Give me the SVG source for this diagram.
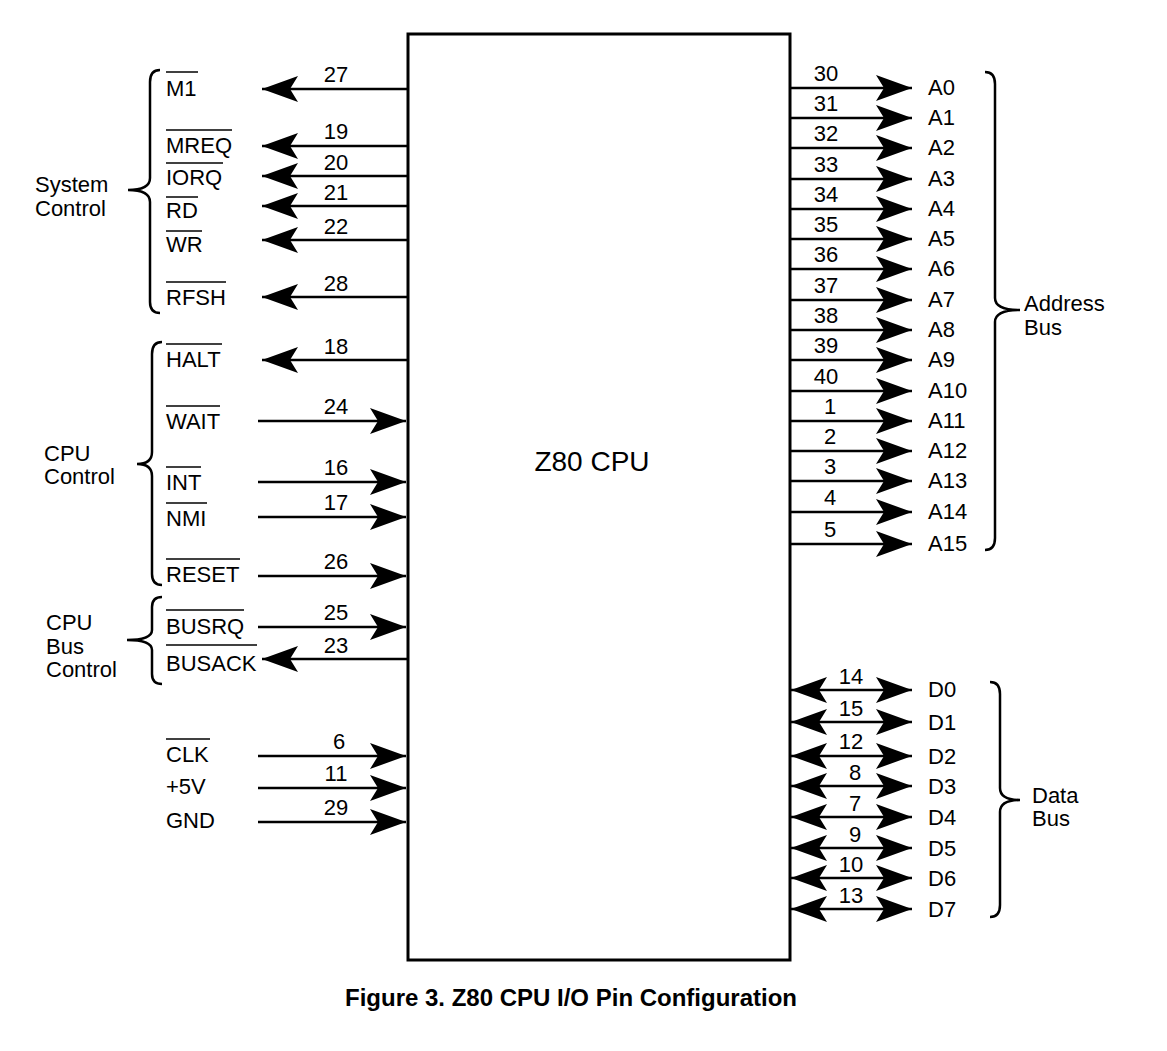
<svg xmlns="http://www.w3.org/2000/svg" width="1167" height="1051" viewBox="0 0 1167 1051">
<style>
text{font-family:"Liberation Sans",Arial,sans-serif;font-size:22px;fill:#000}
.n{text-anchor:middle}
.w{stroke:#000;stroke-width:2.5;fill:none}
.ob{stroke:#000;stroke-width:1.5}
.br{stroke:#000;stroke-width:2.5;fill:none}
</style>
<defs>
<marker id="ah" markerUnits="userSpaceOnUse" markerWidth="40" markerHeight="30" viewBox="-36 -15 38 30" refX="0" refY="0" orient="auto-start-reverse">
<path d="M0,0 L-36,-13 L-28,0 L-36,13 Z" fill="#000"/>
</marker>
</defs>
<rect width="1167" height="1051" fill="#fff"/>
<g id="cpu"><rect x="408" y="34" width="382" height="926" fill="#fff" stroke="#000" stroke-width="3"/>
<text x="592" y="471" class="n" style="font-size:28px">Z80 CPU</text></g>
<g id="connectors">
<line class="w" x1="408" y1="89" x2="262" y2="89" marker-end="url(#ah)"/>
<line class="w" x1="408" y1="146" x2="262" y2="146" marker-end="url(#ah)"/>
<line class="w" x1="408" y1="176" x2="262" y2="176" marker-end="url(#ah)"/>
<line class="w" x1="408" y1="206" x2="262" y2="206" marker-end="url(#ah)"/>
<line class="w" x1="408" y1="240" x2="262" y2="240" marker-end="url(#ah)"/>
<line class="w" x1="408" y1="297" x2="262" y2="297" marker-end="url(#ah)"/>
<line class="w" x1="408" y1="360" x2="262" y2="360" marker-end="url(#ah)"/>
<line class="w" x1="408" y1="659" x2="262" y2="659" marker-end="url(#ah)"/>
<line class="w" x1="258" y1="421" x2="406" y2="421" marker-end="url(#ah)"/>
<line class="w" x1="258" y1="482" x2="406" y2="482" marker-end="url(#ah)"/>
<line class="w" x1="258" y1="517" x2="406" y2="517" marker-end="url(#ah)"/>
<line class="w" x1="258" y1="576" x2="406" y2="576" marker-end="url(#ah)"/>
<line class="w" x1="258" y1="627" x2="406" y2="627" marker-end="url(#ah)"/>
<line class="w" x1="258" y1="756" x2="406" y2="756" marker-end="url(#ah)"/>
<line class="w" x1="258" y1="788" x2="406" y2="788" marker-end="url(#ah)"/>
<line class="w" x1="258" y1="822" x2="406" y2="822" marker-end="url(#ah)"/>
<line class="w" x1="790" y1="88" x2="912" y2="88" marker-end="url(#ah)"/>
<line class="w" x1="790" y1="118" x2="912" y2="118" marker-end="url(#ah)"/>
<line class="w" x1="790" y1="148" x2="912" y2="148" marker-end="url(#ah)"/>
<line class="w" x1="790" y1="179" x2="912" y2="179" marker-end="url(#ah)"/>
<line class="w" x1="790" y1="209" x2="912" y2="209" marker-end="url(#ah)"/>
<line class="w" x1="790" y1="239" x2="912" y2="239" marker-end="url(#ah)"/>
<line class="w" x1="790" y1="269" x2="912" y2="269" marker-end="url(#ah)"/>
<line class="w" x1="790" y1="300" x2="912" y2="300" marker-end="url(#ah)"/>
<line class="w" x1="790" y1="330" x2="912" y2="330" marker-end="url(#ah)"/>
<line class="w" x1="790" y1="360" x2="912" y2="360" marker-end="url(#ah)"/>
<line class="w" x1="790" y1="391" x2="912" y2="391" marker-end="url(#ah)"/>
<line class="w" x1="790" y1="421" x2="912" y2="421" marker-end="url(#ah)"/>
<line class="w" x1="790" y1="451" x2="912" y2="451" marker-end="url(#ah)"/>
<line class="w" x1="790" y1="481" x2="912" y2="481" marker-end="url(#ah)"/>
<line class="w" x1="790" y1="512" x2="912" y2="512" marker-end="url(#ah)"/>
<line class="w" x1="790" y1="544" x2="912" y2="544" marker-end="url(#ah)"/>
<line class="w" x1="791" y1="690" x2="912" y2="690" marker-start="url(#ah)" marker-end="url(#ah)"/>
<line class="w" x1="791" y1="722" x2="912" y2="722" marker-start="url(#ah)" marker-end="url(#ah)"/>
<line class="w" x1="791" y1="756" x2="912" y2="756" marker-start="url(#ah)" marker-end="url(#ah)"/>
<line class="w" x1="791" y1="786" x2="912" y2="786" marker-start="url(#ah)" marker-end="url(#ah)"/>
<line class="w" x1="791" y1="817" x2="912" y2="817" marker-start="url(#ah)" marker-end="url(#ah)"/>
<line class="w" x1="791" y1="848" x2="912" y2="848" marker-start="url(#ah)" marker-end="url(#ah)"/>
<line class="w" x1="791" y1="878" x2="912" y2="878" marker-start="url(#ah)" marker-end="url(#ah)"/>
<line class="w" x1="791" y1="909" x2="912" y2="909" marker-start="url(#ah)" marker-end="url(#ah)"/>
</g>
<g id="pin-numbers">
<text class="n" x="336" y="82">27</text><text class="n" x="336" y="139">19</text><text class="n" x="336" y="170">20</text><text class="n" x="336" y="200">21</text><text class="n" x="336" y="234">22</text><text class="n" x="336" y="291">28</text><text class="n" x="336" y="354">18</text><text class="n" x="336" y="414">24</text><text class="n" x="336" y="475">16</text><text class="n" x="336" y="510">17</text><text class="n" x="336" y="569">26</text><text class="n" x="336" y="620">25</text><text class="n" x="336" y="653">23</text><text class="n" x="339" y="749">6</text><text class="n" x="336" y="781">11</text><text class="n" x="336" y="815">29</text>
<text class="n" x="826" y="81">30</text><text class="n" x="826" y="111">31</text><text class="n" x="826" y="141">32</text><text class="n" x="826" y="172">33</text><text class="n" x="826" y="202">34</text><text class="n" x="826" y="232">35</text><text class="n" x="826" y="262">36</text><text class="n" x="826" y="293">37</text><text class="n" x="826" y="323">38</text><text class="n" x="826" y="353">39</text><text class="n" x="826" y="384">40</text><text class="n" x="830" y="414">1</text><text class="n" x="830" y="444">2</text><text class="n" x="830" y="474">3</text><text class="n" x="830" y="505">4</text><text class="n" x="830" y="537">5</text>
<text class="n" x="851" y="684">14</text><text class="n" x="851" y="716">15</text><text class="n" x="851" y="749">12</text><text class="n" x="855" y="780">8</text><text class="n" x="855" y="811">7</text><text class="n" x="855" y="842">9</text><text class="n" x="851" y="872">10</text><text class="n" x="851" y="903">13</text>
</g>
<g id="left-labels">
<text x="166" y="96">M1</text><line class="ob" x1="166" y1="72" x2="198" y2="72"/>
<text x="166" y="153">MREQ</text><line class="ob" x1="166" y1="130" x2="232" y2="130"/>
<text x="166" y="185">IORQ</text><line class="ob" x1="166" y1="163" x2="223" y2="163"/>
<text x="166" y="218">RD</text><line class="ob" x1="166" y1="197" x2="198" y2="197"/>
<text x="166" y="252">WR</text><line class="ob" x1="166" y1="231" x2="202" y2="231"/>
<text x="166" y="305">RFSH</text><line class="ob" x1="166" y1="282" x2="226" y2="282"/>
<text x="166" y="367">HALT</text><line class="ob" x1="166" y1="344" x2="222" y2="344"/>
<text x="166" y="429">WAIT</text><line class="ob" x1="166" y1="406" x2="220" y2="406"/>
<text x="166" y="490">INT</text><line class="ob" x1="166" y1="467" x2="201" y2="467"/>
<text x="166" y="526">NMI</text><line class="ob" x1="166" y1="503" x2="207" y2="503"/>
<text x="166" y="582">RESET</text><line class="ob" x1="166" y1="559" x2="240" y2="559"/>
<text x="166" y="634">BUSRQ</text><line class="ob" x1="166" y1="610" x2="244" y2="610"/>
<text x="166" y="671">BUSACK</text><line class="ob" x1="166" y1="645" x2="257" y2="645"/>
<text x="166" y="762">CLK</text><line class="ob" x1="166" y1="739" x2="210" y2="739"/>
<text x="166" y="794">+5V</text>
<text x="166" y="828">GND</text>
</g>
<g id="right-labels">
<text x="928" y="95">A0</text><text x="928" y="125">A1</text><text x="928" y="155">A2</text><text x="928" y="186">A3</text><text x="928" y="216">A4</text><text x="928" y="246">A5</text><text x="928" y="276">A6</text><text x="928" y="307">A7</text><text x="928" y="337">A8</text><text x="928" y="367">A9</text><text x="928" y="398">A10</text><text x="928" y="428">A11</text><text x="928" y="458">A12</text><text x="928" y="488">A13</text><text x="928" y="519">A14</text><text x="928" y="551">A15</text>
<text x="928" y="697">D0</text><text x="928" y="730">D1</text><text x="928" y="764">D2</text><text x="928" y="794">D3</text><text x="928" y="825">D4</text><text x="928" y="856">D5</text><text x="928" y="886">D6</text><text x="928" y="917">D7</text>
</g>
<g id="braces">
<path class="br" d="M160,70 Q150,70 150,82 L150,178 Q150,190 128,190 Q150,190 150,202 L150,302 Q150,313 160,313"/>
<path class="br" d="M162,342 Q152,342 152,354 L152,452 Q152,464 137,464 Q152,464 152,476 L152,574 Q152,585 162,585"/>
<path class="br" d="M162,597 Q152,597 152,607 L152,630 Q152,640 127,640 Q152,640 152,650 L152,674 Q152,684 162,684"/>
<path class="br" d="M985,72 Q995,72 995,84 L995,298 Q995,310 1020,310 Q995,310 995,322 L995,538 Q995,550 985,550"/>
<path class="br" d="M990,682 Q1000,682 1000,694 L1000,788 Q1000,800 1020,800 Q1000,800 1000,812 L1000,905 Q1000,917 990,917"/>
</g>
<g id="group-labels">
<text x="35" y="192">System</text><text x="35" y="216">Control</text>
<text x="44" y="461">CPU</text><text x="44" y="484">Control</text>
<text x="46" y="630">CPU</text><text x="46" y="654">Bus</text><text x="46" y="677">Control</text>
<text x="1024" y="311">Address</text><text x="1024" y="335">Bus</text>
<text x="1032" y="803">Data</text><text x="1032" y="826">Bus</text>
</g>
<text x="571" y="1006" class="n" style="font-weight:bold;font-size:24px">Figure 3. Z80 CPU I/O Pin Configuration</text>
</svg>
